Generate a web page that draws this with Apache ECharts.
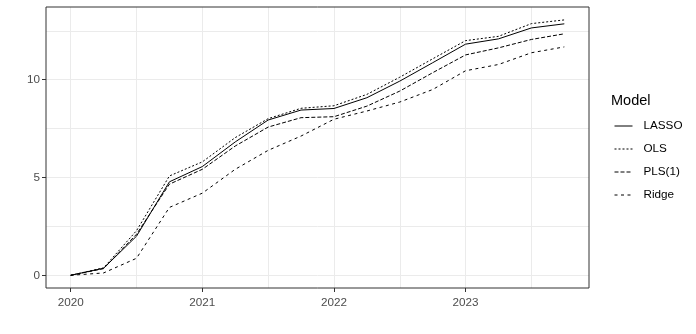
<!DOCTYPE html>
<html>
<head>
<meta charset="utf-8">
<script src="https://cdn.jsdelivr.net/npm/echarts@6/dist/echarts.min.js"></script>
<style>
  html, body { margin: 0; padding: 0; background: #fff; }
  #chart { width: 696px; height: 334px; }
</style>
</head>
<body>
<div id="chart"></div>
<script>
// quarterly time points
const quarters = [
  2020.0, 2020.25, 2020.5, 2020.75,
  2021.0, 2021.25, 2021.5, 2021.75,
  2022.0, 2022.25, 2022.5, 2022.75,
  2023.0, 2023.25, 2023.5, 2023.75
];

const lassoValues = [0, 0.36, 2.0, 4.78, 5.56, 6.82, 7.94, 8.45, 8.53, 9.08, 9.93, 10.87, 11.82, 12.09, 12.65, 12.86];
const olsValues   = [0, 0.38, 2.28, 5.08, 5.8, 7.04, 8.01, 8.54, 8.67, 9.25, 10.13, 11.07, 12.0, 12.22, 12.87, 13.06];
const plsValues   = [0, 0.34, 2.1, 4.66, 5.42, 6.61, 7.58, 8.06, 8.11, 8.65, 9.42, 10.36, 11.27, 11.63, 12.06, 12.35];
const ridgeValues = [0, 0.12, 0.87, 3.47, 4.2, 5.42, 6.39, 7.12, 7.98, 8.4, 8.86, 9.5, 10.46, 10.78, 11.38, 11.68];

const seriesNames = ["LASSO", "OLS", "PLS(1)", "Ridge"];
const yearTicks = [2020, 2021, 2022, 2023];

const font = "Liberation Sans, Arial, sans-serif";
const gridColor = "#EBEBEB";

const toPoints = (vals) => vals.map((v, i) => [quarters[i], v]);

const lineSeries = (name, vals, dash) => ({
  name: name,
  type: "line",
  xAxisIndex: 0,
  yAxisIndex: 0,
  data: toPoints(vals),
  symbol: "none",
  silent: true,
  z: 5,
  lineStyle: { color: "#000", width: 1, type: dash },
  itemStyle: { color: "#000" },
});

const myChart = echarts.init(document.getElementById("chart"), null, { renderer: "canvas" });

const xMin = 2019.8125, xMax = 2023.9375;
const yMin = -0.65, yMax = 13.72;

const option = {
  animation: false,
  backgroundColor: "#fff",
  title: {
    text: "Model",
    left: 606,
    top: 88,
    textStyle: { fontFamily: font, fontSize: 14.5, fontWeight: "normal", color: "#000" },
  },
  legend: {
    orient: "vertical",
    left: 609,
    top: 115,
    itemWidth: 18,
    itemHeight: 12,
    itemGap: 11,
    selectedMode: false,
    data: seriesNames,
    itemStyle: { opacity: 0 },
    lineStyle: { width: 1 },
    textStyle: { fontFamily: font, fontSize: 11.7, color: "#000", padding: [0, 0, 0, 6] },
  },
  grid: {
    left: 46,
    right: 107,
    top: 7,
    bottom: 46,
    show: true,
    borderColor: "#333",
    borderWidth: 1,
    backgroundColor: "transparent",
    z: 10,
  },
  xAxis: [
    {
      type: "value",
      min: xMin,
      max: xMax,
      minInterval: 1,
      maxInterval: 1,
      axisLine: { show: false, onZero: false },
      axisTick: { show: true, length: 4, lineStyle: { color: "#333" } },
      splitLine: { show: false },
      axisLabel: {
        showMinLabel: false,
        showMaxLabel: false,
        margin: 9,
        fontFamily: font,
        fontSize: 11.7,
        color: "#4D4D4D",
        formatter: (v) => (yearTicks.includes(v) ? String(v) : ""),
      },
    },
    {
      // gridlines every half year
      type: "value",
      position: "bottom",
      min: xMin,
      max: xMax,
      minInterval: 0.5,
      maxInterval: 0.5,
      axisLine: { show: false, onZero: false },
      axisTick: { show: false },
      axisLabel: { show: false },
      splitLine: { show: true, showMinLine: false, showMaxLine: false, lineStyle: { color: gridColor, width: 1 } },
    },
  ],
  yAxis: [
    {
      type: "value",
      min: yMin,
      max: yMax,
      minInterval: 5,
      maxInterval: 5,
      axisLine: { show: false, onZero: false },
      axisTick: { show: true, length: 4, lineStyle: { color: "#333" } },
      splitLine: { show: false },
      axisLabel: {
        showMinLabel: false,
        showMaxLabel: false,
        margin: 6,
        fontFamily: font,
        fontSize: 11.7,
        color: "#4D4D4D",
      },
    },
    {
      // gridlines every 2.5
      type: "value",
      position: "left",
      min: yMin,
      max: yMax,
      minInterval: 2.5,
      maxInterval: 2.5,
      axisLine: { show: false, onZero: false },
      axisTick: { show: false },
      axisLabel: { show: false },
      splitLine: { show: true, showMinLine: false, showMaxLine: false, lineStyle: { color: gridColor, width: 1 } },
    },
  ],
  series: [
    lineSeries("LASSO", lassoValues, "solid"),
    lineSeries("OLS", olsValues, [2, 2]),
    lineSeries("PLS(1)", plsValues, [4, 2]),
    lineSeries("Ridge", ridgeValues, [3, 3.5]),
  ],
};

myChart.setOption(option);
</script>
</body>
</html>
